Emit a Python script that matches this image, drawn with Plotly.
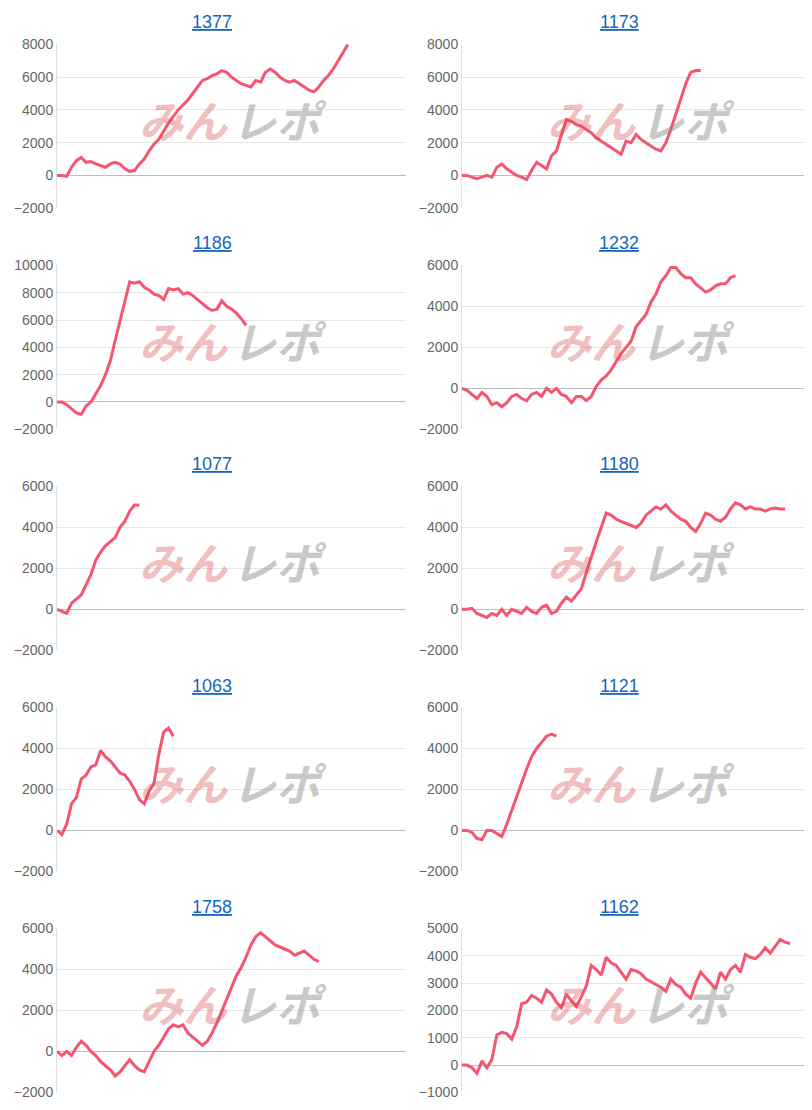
import plotly.graph_objects as go

# machine numbers (panel titles) in reading order
titles = ['1377', '1173', '1186', '1232', '1077', '1180', '1063', '1121', '1758', '1162']

s1377 = [0, 0, -50, 500, 900, 1100, 800, 850, 700, 600,
         500, 700, 800, 700, 400, 250, 300, 700, 1000, 1500,
         1900, 2200, 2700, 3200, 3600, 4000, 4300, 4600, 5000, 5400,
         5800, 5900, 6100, 6200, 6400, 6300, 6000, 5800, 5600, 5500,
         5400, 5800, 5700, 6300, 6500, 6300, 6000, 5800, 5700, 5800,
         5600, 5400, 5200, 5100, 5400, 5800, 6100, 6500, 7000, 7500, 8000]
s1173 = [0, 0, -100, -200, -100, 0, -100, 500, 700, 400,
         200, 0, -100, -250, 300, 800, 600, 400, 1200, 1500,
         2500, 3400, 3300, 3100, 3000, 2800, 2600, 2300, 2100, 1900,
         1700, 1500, 1300, 2100, 2000, 2500, 2200, 2000, 1800, 1600,
         1500, 2000, 2800, 3700, 4700, 5600, 6300, 6400, 6400]
s1186 = [0, 0, -200, -500, -800, -900, -300, 0, 600, 1200,
         2000, 3000, 4500, 6000, 7500, 8800, 8700, 8800, 8400, 8200,
         7900, 7800, 7500, 8300, 8200, 8300, 7900, 8000, 7800, 7500,
         7200, 6900, 6700, 6800, 7400, 7000, 6800, 6500, 6100, 5600]
s1232 = [0, -100, -300, -500, -200, -400, -800, -700, -900, -700,
         -400, -300, -500, -600, -300, -200, -400, 0, -200, 0,
         -300, -400, -700, -400, -400, -600, -400, 100, 400, 600,
         900, 1300, 1700, 2000, 2300, 3000, 3300, 3600, 4200, 4600, 5200, 5500,
         5900, 5900, 5600, 5400, 5400, 5100, 4900, 4700, 4800, 5000,
         5100, 5100, 5400, 5500]
s1077 = [0, -100, -200, 300, 500, 700, 1200, 1700, 2400, 2800,
         3100, 3300, 3500, 4000, 4300, 4800, 5100, 5100]
s1180 = [0, 0, 50, -200, -300, -400, -200, -300, 0, -300,
         0, -100, -200, 100, -100, -200, 100, 200, -200, -100,
         300, 600, 400, 700, 1000, 1800, 2600, 3300, 4000, 4700,
         4600, 4400, 4300, 4200, 4100, 4000, 4200, 4600, 4800, 5000,
         4900, 5100, 4800, 4600, 4400, 4300, 4000, 3800, 4200, 4700,
         4600, 4400, 4300, 4500, 4900, 5200, 5100, 4900, 5000, 4900,
         4900, 4800, 4900, 4950, 4900, 4900]
s1063 = [0, -200, 300, 1300, 1600, 2500, 2700, 3100, 3200, 3900,
         3600, 3400, 3100, 2800, 2700, 2400, 2000, 1500, 1300, 1900,
         2300, 3700, 4800, 5000, 4600]
s1121 = [0, 0, -100, -400, -450, 0, 0, -150, -300, 300,
         1000, 1700, 2400, 3000, 3600, 4000, 4300, 4600, 4700, 4600]
s1758 = [0, -200, 0, -200, 200, 500, 300, 0, -200, -500,
         -700, -900, -1200, -1000, -700, -400, -700, -900, -1000, -500,
         0, 300, 700, 1100, 1300, 1200, 1300, 900, 700, 500,
         300, 500, 900, 1400, 2000, 2600, 3200, 3700, 4100, 4600,
         5200, 5600, 5800, 5600, 5400, 5200, 5100, 5000, 4900, 4700,
         4800, 4900, 4700, 4500, 4400]
s1162 = [0, 0, -100, -300, 150, -100, 200, 1100, 1200, 1150,
         950, 1400, 2250, 2300, 2550, 2450, 2300, 2750, 2600,
         2300, 2100, 2600, 2350, 2150, 2500, 2900, 3650, 3500, 3300,
         3950, 3750, 3650, 3400, 3150, 3500, 3450, 3350, 3150,
         3050, 2950, 2850, 2700, 3150, 2950, 2850, 2600, 2450, 3000,
         3400, 3200, 3000, 2800, 3400, 3150, 3500, 3650, 3400, 4050,
         3950, 3900, 4050, 4300, 4100, 4350, 4600, 4500, 4450]

series = [s1377, s1173, s1186, s1232, s1077, s1180, s1063, s1121, s1758, s1162]
y_ranges = [(-2000, 8000), (-2000, 8000), (-2000, 10000), (-2000, 6000), (-2000, 6000),
            (-2000, 6000), (-2000, 6000), (-2000, 6000), (-2000, 6000), (-1000, 5000)]
y_steps = [2000] * 9 + [1000]

W, H = 812, 1110
LINE_COLOR = '#f5556f'
X_MAX = 72


# page offsets: map target screen pixels to paper coordinates
def px_x(p):
    return (p - 8) / W


def px_y(p):
    return 1 - ((p - 14.6) / 0.9867) / H


fig = go.Figure()
layout = {}
for i, (name, ys) in enumerate(zip(titles, series)):
    row, col = divmod(i, 2)
    n = i + 1
    xa = 'x' if n == 1 else f'x{n}'
    ya = 'y' if n == 1 else f'y{n}'
    top_px = 43 + 221.3 * row
    bot_px = 207 + 221.3 * row
    xd = [px_x(57), px_x(406)] if col == 0 else [px_x(462), 1.0]
    yd = [px_y(bot_px), px_y(top_px)]

    fig.add_trace(go.Scatter(
        x=list(range(len(ys))), y=ys, mode='lines',
        line=dict(color=LINE_COLOR, width=3),
        xaxis=xa, yaxis=ya, showlegend=False,
        hovertemplate='%{y}<extra></extra>'
    ))

    layout['xaxis' if n == 1 else f'xaxis{n}'] = dict(
        domain=xd, range=[0, X_MAX], anchor=ya, showgrid=False,
        showticklabels=False, zeroline=False, showline=False, fixedrange=True
    )
    lo, hi = y_ranges[i]
    layout['yaxis' if n == 1 else f'yaxis{n}'] = dict(
        domain=yd, range=[lo, hi], anchor=xa, dtick=y_steps[i], tick0=0,
        tickformat='d',
        showgrid=True, gridcolor='#e6e6e6', zeroline=True, zerolinecolor='#bdbdbd',
        zerolinewidth=1, showline=True, linecolor='#e0e0e0',
        tickfont=dict(size=14, color='#666666'), ticks='', fixedrange=True
    )

    title_cx = 212 if col == 0 else 619
    # panel title (link style)
    fig.add_annotation(
        text=f'<u>{name}</u>', xref='paper', yref='paper',
        x=px_x(title_cx), y=px_y(top_px - 22), xanchor='center', yanchor='middle',
        showarrow=False,
        font=dict(size=18, color='#1565c0', family='Arial, Liberation Sans')
    )
    # faint watermark
    wy = px_y(top_px + 75)
    wx = px_x(230 if col == 0 else 638)
    fig.add_annotation(
        text='<b><i>みん</i></b>', xref='paper', yref='paper', x=wx, y=wy,
        xanchor='right', yanchor='middle', showarrow=False, opacity=0.35,
        font=dict(size=44, color='#d94a4a', family='Noto Sans CJK JP')
    )
    fig.add_annotation(
        text='<b><i>レポ</i></b>', xref='paper', yref='paper', x=wx, y=wy,
        xanchor='left', yanchor='middle', showarrow=False, opacity=0.45,
        font=dict(size=44, color='#888888', family='Noto Sans CJK JP')
    )

fig.update_layout(
    width=W, height=H, margin=dict(l=0, r=0, t=0, b=0),
    paper_bgcolor='white', plot_bgcolor='white',
    font=dict(family='Arial, Liberation Sans'),
    **layout
)

fig.write_html('out.html')
